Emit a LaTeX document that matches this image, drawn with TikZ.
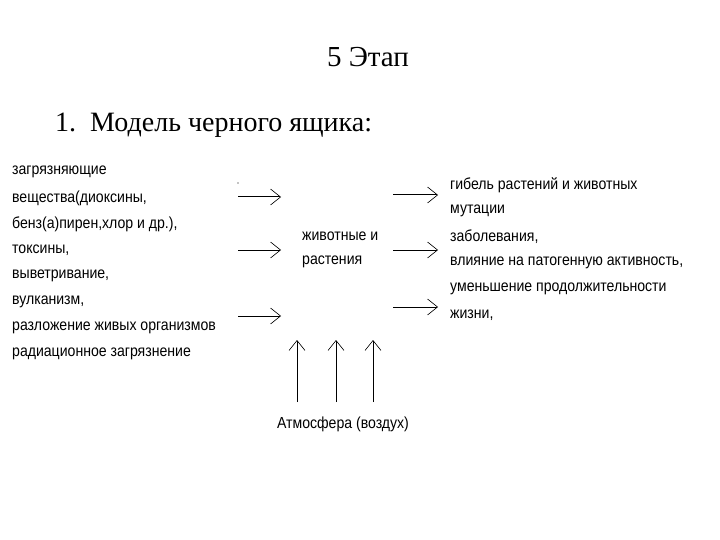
\documentclass[tikz,border=0pt]{standalone}
\usepackage{fontspec}
\setmainfont{Liberation Serif}
\newfontfamily\arial{Liberation Sans}
\usetikzlibrary{arrows.meta}
\begin{document}
\begin{tikzpicture}[x=1pt,y=-1pt,
  lbl/.style={font=\arial\fontsize{16}{16}\selectfont, anchor=west, inner sep=0pt, xscale=0.88},
  arr/.style={-{Straight Barb[length=10pt,width=16pt,line width=0.6pt]}, line width=1pt}]
\useasboundingbox (0,0) rectangle (720,540);
\node[font=\fontsize{29}{29}\selectfont] (title) at (368,57) {5 Этап};
\node[font=\fontsize{28}{28}\selectfont, anchor=west, inner sep=0pt] (sub) at (55,125) {1.\ \ Модель черного ящика:};
\foreach \t [count=\i] in {загрязняющие,{вещества(диоксины,},{бенз(а)пирен,хлор и др.),},{токсины,},{выветривание,},{вулканизм,},разложение живых организмов,радиационное загрязнение}
  \node[lbl] (l\i) at (12,{146+\i*26}) {\t};
\foreach \t [count=\i] in {гибель растений и животных,мутации,{заболевания,},{влияние на патогенную активность,},уменьшение продолжительности,{жизни,}}
  \node[lbl] (r\i) at (450,{159+\i*26}) {\t};
\node[lbl] (c1) at (302,236) {животные и};
\node[lbl] (c2) at (302,262) {растения};
\node[font=\arial\fontsize{16}{16}\selectfont, xscale=0.88] (atm) at (343,424) {Атмосфера (воздух)};
\node[circle,fill,inner sep=0.5pt] (dot) at (238,183) {};
\foreach \y [count=\i] in {197,250,316}{
  \coordinate (a\i) at (238,\y); \coordinate (b\i) at (281,\y);
  \draw[arr] (a\i) -- (b\i);}
\foreach \y [count=\i] in {195,250,307}{
  \coordinate (p\i) at (393,\y); \coordinate (q\i) at (438,\y);
  \draw[arr] (p\i) -- (q\i);}
\foreach \x [count=\i] in {297,336,373}{
  \coordinate (u\i) at (\x,402); \coordinate (v\i) at (\x,340);
  \draw[arr] (u\i) -- (v\i);}
\end{tikzpicture}
\end{document}
